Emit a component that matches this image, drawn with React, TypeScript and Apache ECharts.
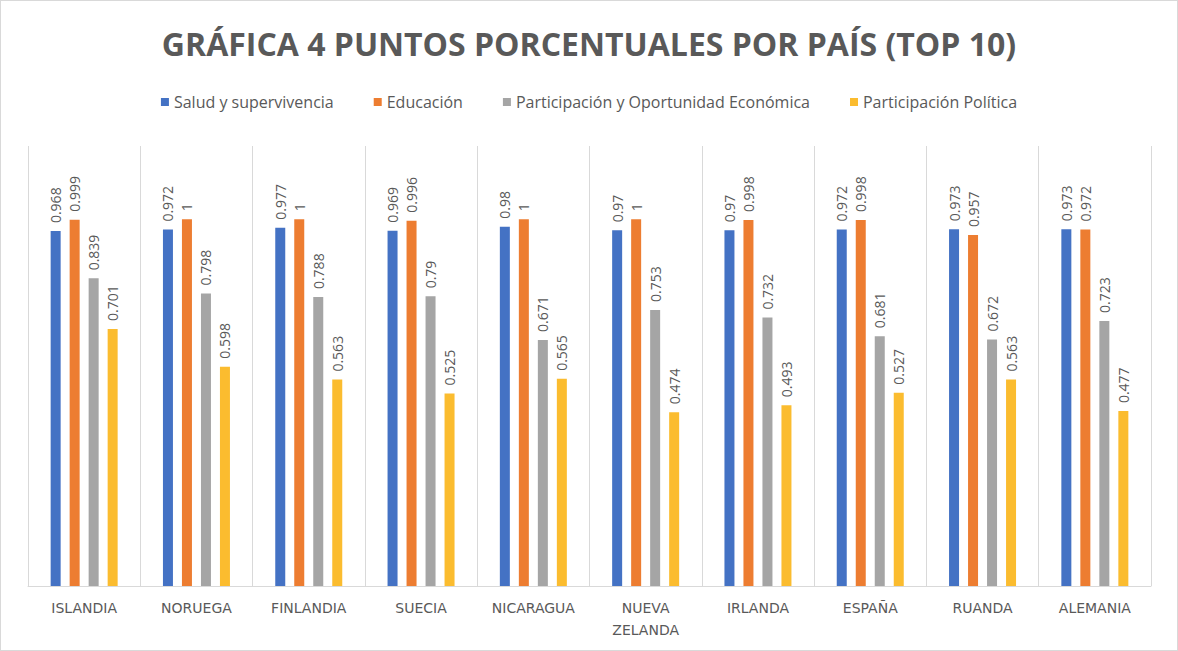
import React, { useEffect, useRef } from "react";
import * as echarts from "echarts";

const categories = ["ISLANDIA", "NORUEGA", "FINLANDIA", "SUECIA", "NICARAGUA", "NUEVA ZELANDA", "IRLANDA", "ESPAÑA", "RUANDA", "ALEMANIA"];
const seriesNames = ["Salud y supervivencia", "Educación", "Participación y Oportunidad Económica", "Participación Política"];
const salud = [0.968, 0.972, 0.977, 0.969, 0.98, 0.97, 0.97, 0.972, 0.973, 0.973];
const educacion = [0.999, 1, 1, 0.996, 1, 1, 0.998, 0.998, 0.957, 0.972];
const economica = [0.839, 0.798, 0.788, 0.79, 0.671, 0.753, 0.732, 0.681, 0.672, 0.723];
const politica = [0.701, 0.598, 0.563, 0.525, 0.565, 0.474, 0.493, 0.527, 0.563, 0.477];
const colors = ["#4472C4", "#ED7D31", "#A5A5A5", "#FBBC2F"];

export default function App() {
  const ref = useRef<HTMLDivElement>(null);
  useEffect(() => {
    document.body.style.margin = "0";
    const chart = echarts.init(ref.current!, null, { renderer: "svg" });
    const values = [salud, educacion, economica, politica];
    chart.setOption({
      animation: false,
      backgroundColor: "#ffffff",
      textStyle: { fontFamily: "Open Sans" },
      title: {
        text: "GRÁFICA 4 PUNTOS PORCENTUALES POR PAÍS (TOP 10)",
        left: "center",
        top: 21,
        textStyle: { fontFamily: "Open Sans", fontWeight: "bold", fontSize: 32, color: "#595959" },
      },
      legend: {
        top: 88,
        left: "center",
        itemWidth: 8,
        itemHeight: 8,
        itemGap: 40,
        icon: "rect",
        textStyle: { fontFamily: "Open Sans", fontSize: 16, color: "#595959" },
        data: seriesNames,
      },
      grid: { left: 27, right: 26, top: 145, bottom: 64 },
      xAxis: {
        type: "category",
        data: categories,
        axisLine: { lineStyle: { color: "#d9d9d9" } },
        axisTick: { show: false },
        splitLine: { show: true, lineStyle: { color: "#d9d9d9" } },
        axisLabel: {
          interval: 0,
          margin: 11,
          color: "#595959",
          fontSize: 14,
          lineHeight: 22,
          fontFamily: "DejaVu Sans",
          formatter: (v: string) => v.replace(" ", "\n"),
        },
      },
      yAxis: { type: "value", min: 0, max: 1.2, show: false, splitLine: { show: false } },
      series: seriesNames.map((name, i) => ({
        name,
        type: "bar",
        data: values[i],
        barWidth: 10,
        barGap: "90%",
        itemStyle: { color: colors[i] },
        label: {
          show: true,
          position: "top",
          rotate: 90,
          align: "left",
          verticalAlign: "middle",
          distance: 8,
          color: "#595959",
          fontSize: 14,
          fontFamily: "Open Sans",
        },
      })),
    });
    return () => chart.dispose();
  }, []);
  return (
    <div
      ref={ref}
      style={{ position: "absolute", left: 0, top: 0, width: 1178, height: 651, boxSizing: "border-box", border: "1px solid #d9d9d9" }}
    />
  );
}
